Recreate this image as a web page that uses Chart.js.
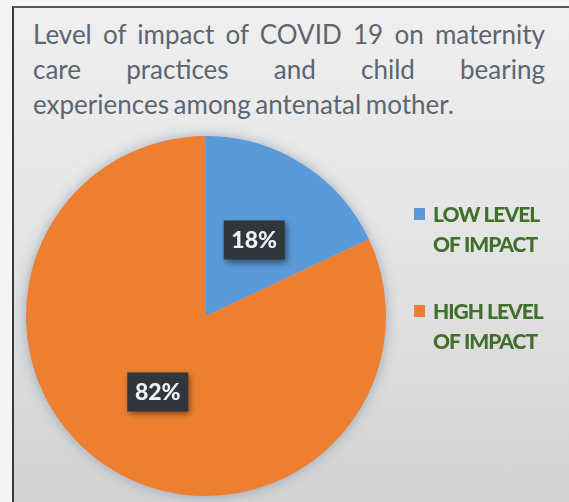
<!DOCTYPE html>
<html>
<head>
<meta charset="utf-8">
<script src="https://cdn.jsdelivr.net/npm/chart.js@4.4.1/dist/chart.umd.min.js"></script>
<style>
  body { margin: 0; background: #f4f4f4; }
  #wrap { position: relative; width: 569px; height: 502px; overflow: hidden; }
  #frame {
    position: absolute; left: 12px; top: 6px; width: 570px; height: 510px;
    border-left: 2px solid #3a3a3a; border-top: 2px solid #555;
    background: linear-gradient(180deg, #efefef 0%, #e6e6e6 40%, #d2d2d2 100%);
  }
  #title {
    position: absolute; left: 33px; top: 17px; width: 512px;
    font-family: Lato, sans-serif; font-size: 26px; color: #5b6670;
    line-height: 35px;
  }
  #title div { white-space: nowrap; }
  #title .j { text-align: justify; text-align-last: justify; white-space: normal; }
  canvas { position: absolute; left: 0; top: 0; }
</style>
</head>
<body>
<div id="wrap">
  <div id="frame"></div>
  <div id="title">
    <div class="j">Level of impact of COVID 19 on maternity</div>
    <div class="j">care practices and child bearing</div>
    <div style="word-spacing:-2px">experiences among antenatal mother.</div>
  </div>
  <canvas id="impactChart" width="569" height="502"></canvas>
</div>
<script>
const categories = [["LOW LEVEL", "OF IMPACT"], ["HIGH LEVEL", "OF IMPACT"]];
const values = [18, 82];
const sliceColors = ['#5a9ad8', '#ee7f30'];

// soft glow behind the pie
const pieShadow = {
  id: 'pieShadow',
  beforeDatasetsDraw(chart) {
    const arc = chart.getDatasetMeta(0).data[0];
    if (!arc) return;
    const ctx = chart.ctx;
    ctx.save();
    ctx.shadowColor = 'rgba(80,110,150,0.55)';
    ctx.shadowBlur = 14;
    ctx.fillStyle = '#c9c9c9';
    ctx.beginPath();
    ctx.arc(arc.x, arc.y, arc.outerRadius - 1, 0, Math.PI * 2);
    ctx.fill();
    ctx.restore();
  }
};

// dark boxed percentage labels
const sliceLabels = {
  id: 'sliceLabels',
  afterDatasetsDraw(chart) {
    const ctx = chart.ctx;
    const data = chart.data.datasets[0].data;
    const total = data.reduce((a, b) => a + b, 0);
    chart.getDatasetMeta(0).data.forEach((arc, i) => {
      const p = arc.tooltipPosition();
      const txt = Math.round(data[i] / total * 100) + '%';
      const w = 61, h = 39;
      ctx.save();
      ctx.shadowColor = 'rgba(0,0,0,0.45)';
      ctx.shadowBlur = 6;
      ctx.shadowOffsetX = 2;
      ctx.shadowOffsetY = 3;
      ctx.fillStyle = '#30363c';
      ctx.fillRect(p.x - w / 2, p.y - h / 2, w, h);
      ctx.restore();
      ctx.save();
      ctx.font = '900 23px Lato';
      ctx.fillStyle = '#eef1f4';
      ctx.textAlign = 'center';
      ctx.textBaseline = 'middle';
      ctx.fillText(txt, p.x, p.y + 1);
      ctx.restore();
    });
  }
};

// two-line legend at the right
const sideLegend = {
  id: 'sideLegend',
  afterDraw(chart) {
    const ctx = chart.ctx;
    const colors = chart.data.datasets[0].backgroundColor;
    const tops = [214, 311];
    ctx.save();
    ctx.font = '900 21px Lato';
    ctx.letterSpacing = '-1px';
    ctx.textBaseline = 'middle';
    chart.data.labels.forEach((lab, i) => {
      const y = tops[i];
      ctx.fillStyle = colors[i];
      ctx.fillRect(414, y - 6, 11, 12);
      ctx.fillStyle = '#40702b';
      lab.forEach((line, k) => {
        ctx.fillText(line, 433, y + k * 30 + 1);
      });
    });
    ctx.restore();
  }
};

new Chart(document.getElementById('impactChart').getContext('2d'), {
  type: 'pie',
  data: {
    labels: categories,
    datasets: [{
      data: values,
      backgroundColor: sliceColors,
      borderWidth: 0
    }]
  },
  options: {
    responsive: false,
    animation: false,
    layout: { padding: { left: 26, top: 136, right: 183, bottom: 6 } },
    plugins: {
      legend: { display: false },
      tooltip: { enabled: false }
    }
  },
  plugins: [pieShadow, sliceLabels, sideLegend]
});
</script>
</body>
</html>
